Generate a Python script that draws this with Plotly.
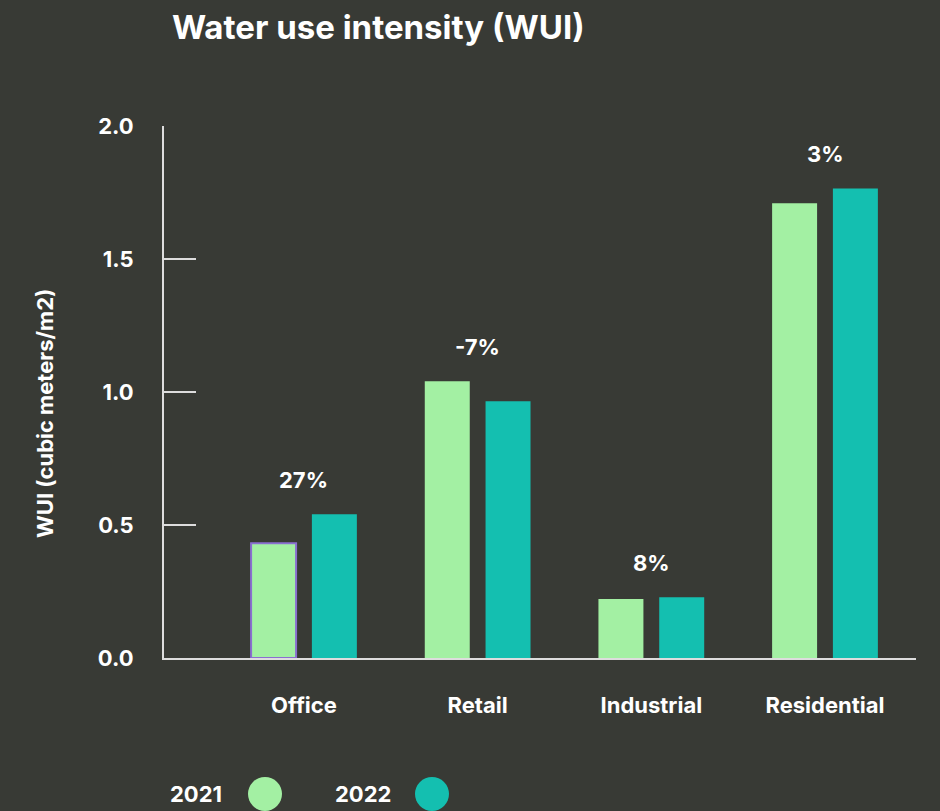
import plotly.graph_objects as go

categories = ["Office", "Retail", "Industrial", "Residential"]
wui_2021 = [0.432, 1.041, 0.222, 1.711]
wui_2022 = [0.541, 0.966, 0.229, 1.767]
changes = ["27%", "-7%", "8%", "3%"]
years = ["2021", "2022"]
y_ticks = [0.0, 0.5, 1.0, 1.5, 2.0]
y_tick_labels = ["0.0", "0.5", "1.0", "1.5", "2.0"]

BG = "#383A35"
C21 = "#A3F0A3"
C22 = "#14BFB0"
FONT = "Inter, Roboto, sans-serif"
FS = 22

fig = go.Figure()
fig.add_trace(go.Bar(
    x=categories, y=wui_2021, name=years[0], marker_color=C21,
    marker_line_color=["#8A6FD0", C21, C21, C21],
    marker_line_width=[2, 0, 0, 0],
    showlegend=False,
))
fig.add_trace(go.Bar(
    x=categories, y=wui_2022, name=years[1], marker_color=C22,
    marker_line_width=0, showlegend=False,
))

for cat, a, b, ch in zip(categories, wui_2021, wui_2022, changes):
    fig.add_annotation(x=cat, y=max(a, b), text=f"<b>{ch}</b>", showarrow=False,
                       yshift=34, font=dict(size=FS, color="white", family=FONT))

# Y-axis title
fig.add_annotation(xref="paper", yref="paper", x=(45 - 164) / 752, y=(658 - 414) / 532,
                   text="<b>WUI (cubic meters/m2)</b>", textangle=-90, showarrow=False,
                   xanchor="center", yanchor="middle",
                   font=dict(size=FS, color="white", family=FONT))

# Legend (text then circle)
fig.add_annotation(xref="paper", yref="paper", x=(196 - 164) / 752, y=(658 - 794) / 532,
                   text="<b>2021</b>", showarrow=False, xanchor="center", yanchor="middle",
                   font=dict(size=FS, color="white", family=FONT))
fig.add_annotation(xref="paper", yref="paper", x=(363 - 164) / 752, y=(658 - 794) / 532,
                   text="<b>2022</b>", showarrow=False, xanchor="center", yanchor="middle",
                   font=dict(size=FS, color="white", family=FONT))
fig.add_shape(type="circle", xref="paper", yref="paper",
              x0=(248 - 164) / 752, x1=(282 - 164) / 752,
              y0=(658 - 811) / 532, y1=(658 - 777) / 532,
              fillcolor=C21, line_width=0)
fig.add_shape(type="circle", xref="paper", yref="paper",
              x0=(415 - 164) / 752, x1=(449 - 164) / 752,
              y0=(658 - 811) / 532, y1=(658 - 777) / 532,
              fillcolor=C22, line_width=0)

fig.update_layout(
    width=940, height=811,
    paper_bgcolor=BG, plot_bgcolor=BG,
    margin=dict(l=164, r=24, t=126, b=153),
    barmode="group", bargap=0.30, bargroupgap=0.26,
    title=dict(text="<b>Water use intensity (WUI)</b>", x=172 / 940, xanchor="left",
               y=1 - 27 / 811, yanchor="middle",
               font=dict(size=33, color="white", family=FONT)),
    font=dict(family=FONT, color="white"),
)
fig.update_xaxes(
    range=[-0.806, 3.524], showgrid=False, showline=True, linecolor="#DDDDDD", linewidth=2,
    ticks="", tickfont=dict(size=FS, color="white", family=FONT),
    ticklabelstandoff=27, zeroline=False,
    tickvals=categories, ticktext=[f"<b>{c}</b>" for c in categories],
)
fig.update_yaxes(
    range=[0, 2.002], showgrid=False, showline=True, linecolor="#DDDDDD", linewidth=2,
    ticks="inside", ticklen=32, tickwidth=2, tickcolor="#DDDDDD",
    tickvals=y_ticks, ticktext=[f"<b>{t}</b>" for t in y_tick_labels],
    tickfont=dict(size=FS, color="white", family=FONT), ticklabelstandoff=24,
    zeroline=False,
)

fig.write_html(
    "out.html",
    config={"displayModeBar": False},
    post_script="document.body.style.margin='0';document.body.style.padding='0';"
                "document.body.style.overflow='hidden';",
)
